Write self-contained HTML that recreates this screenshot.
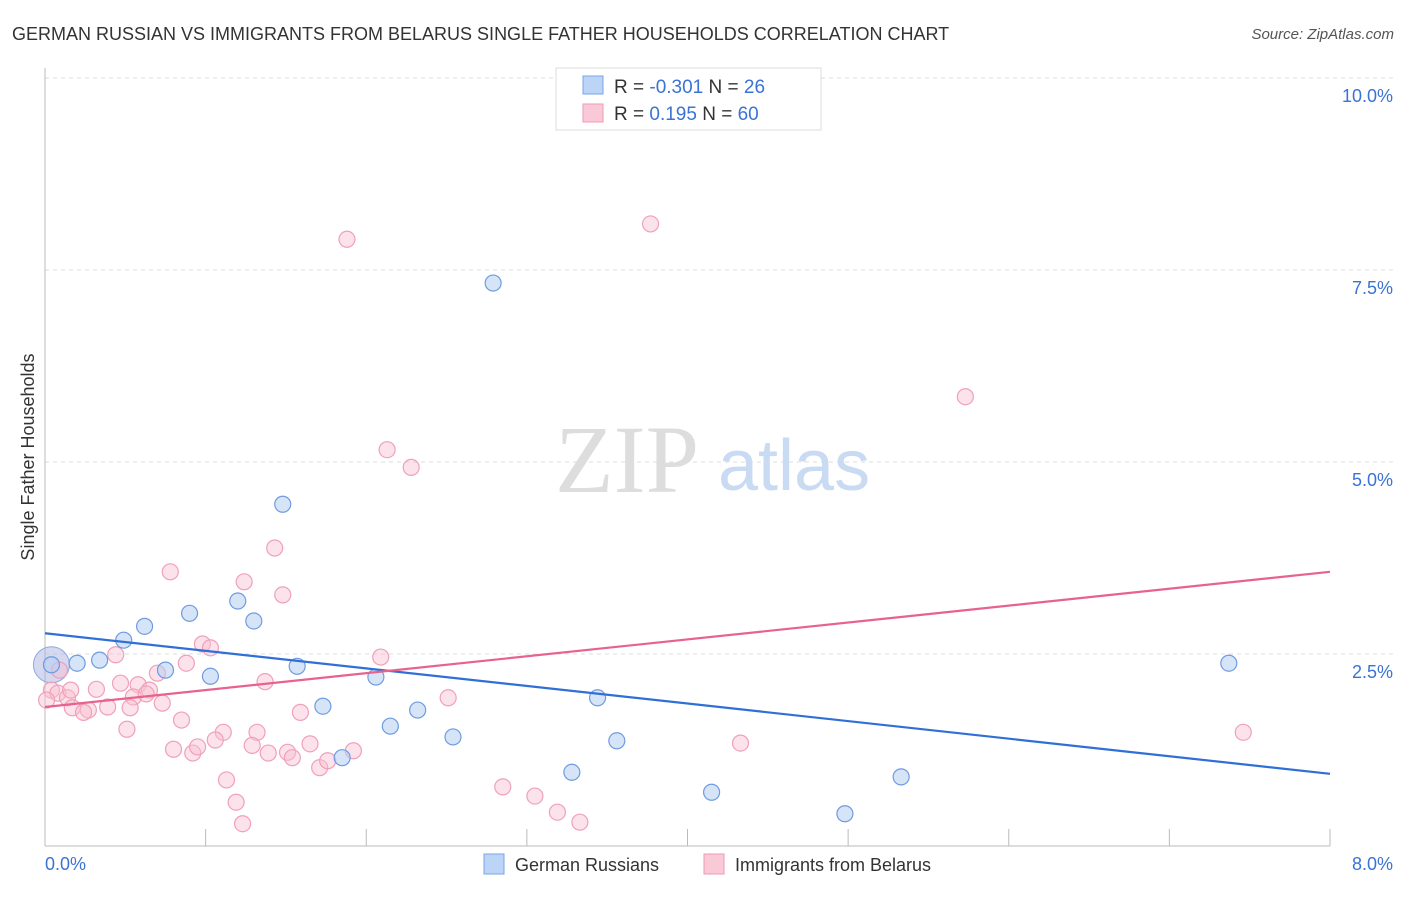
<!DOCTYPE html>
<html><head><meta charset="utf-8"><style>
body{margin:0;background:#fff;font-family:"Liberation Sans",sans-serif}
</style></head><body>
<svg width="1406" height="892" viewBox="0 0 1406 892" xmlns="http://www.w3.org/2000/svg" font-family="Liberation Sans, sans-serif">
<text x="12" y="40" font-size="18" fill="#333">GERMAN RUSSIAN VS IMMIGRANTS FROM BELARUS SINGLE FATHER HOUSEHOLDS CORRELATION CHART</text>
<text x="1394" y="39" font-size="15" fill="#555" text-anchor="end" font-style="italic">Source: ZipAtlas.com</text>
<g id="grid"></g>
<text x="555" y="492" font-size="96" fill="#ddd" font-family="Liberation Serif, serif">ZIP</text>
<text x="718" y="490" font-size="72" fill="#c9daf3">atlas</text>
<line x1="45" y1="68" x2="45" y2="846" stroke="#bbb"/>
<line x1="45" y1="846" x2="1330" y2="846" stroke="#bbb"/>
<g id="xt"></g>
<g id="pts"></g>
<g id="trend"></g>
<text transform="translate(34,457) rotate(-90)" font-size="18" fill="#333" text-anchor="middle">Single Father Households</text>
<text x="45" y="870" font-size="18" fill="#3b73d4">0.0%</text>
<text x="1393" y="870" font-size="18" fill="#3b73d4" text-anchor="end">8.0%</text>
<g>
<rect x="556" y="68" width="265" height="62" fill="#fff" stroke="#ddd"/>
<rect x="583" y="76" width="20" height="18" fill="#bcd4f5" stroke="#7aa5e6"/>
<rect x="583" y="104" width="20" height="18" fill="#f9c9d7" stroke="#ef9ab5"/>
<text x="614" y="93" font-size="19" fill="#333">R = <tspan fill="#3b73d4">-0.301</tspan>   N = <tspan fill="#3b73d4">26</tspan></text>
<text x="614" y="120" font-size="19" fill="#333">R =   <tspan fill="#3b73d4">0.195</tspan>   N = <tspan fill="#3b73d4">60</tspan></text>
</g>
<g>
<rect x="484" y="854" width="20" height="20" fill="#bcd4f5" stroke="#7aa5e6"/>
<text x="515" y="871" font-size="18" fill="#333">German Russians</text>
<rect x="704" y="854" width="20" height="20" fill="#f9c9d7" stroke="#ef9ab5"/>
<text x="735" y="871" font-size="18" fill="#333">Immigrants from Belarus</text>
</g>
</svg>
<script>
const yTicks=[10,7.5,5,2.5];
const yTickLabels=["10.0%","7.5%","5.0%","2.5%"];
const xTicks=[0,1,2,3,4,5,6,7,8];
const blueX=[0.04,0.20,0.34,0.49,0.62,0.75,0.90,1.03,1.20,1.30,1.48,1.57,1.73,1.85,2.06,2.15,2.32,2.54,2.79,3.28,3.44,3.56,4.15,4.98,5.33,7.37];
const blueY=[2.36,2.38,2.42,2.68,2.86,2.29,3.03,2.21,3.19,2.93,4.45,2.34,1.82,1.15,2.20,1.56,1.77,1.42,7.33,0.96,1.93,1.37,0.70,0.42,0.90,2.38];
const pinkX=[1.88,3.77,5.73,2.13,2.28,1.43,0.78,1.24,1.48,0.98,1.03,0.44,0.88,2.09,0.70,0.47,0.58,0.65,0.32,1.37,0.04,0.08,0.14,0.55,0.63,0.73,2.51,0.17,0.27,0.39,0.24,0.53,1.59,0.85,0.51,1.11,1.32,0.80,0.92,0.95,1.06,1.29,1.39,1.51,1.54,1.65,1.71,1.76,1.92,4.33,7.46,1.13,1.19,1.23,2.85,3.05,3.19,3.33,0.09,0.01,0.16];
const pinkY=[7.90,8.10,5.85,5.16,4.93,3.88,3.57,3.44,3.27,2.63,2.58,2.49,2.38,2.46,2.25,2.12,2.10,2.03,2.04,2.14,2.03,1.99,1.93,1.94,1.98,1.86,1.93,1.80,1.77,1.81,1.74,1.80,1.74,1.64,1.52,1.48,1.48,1.26,1.21,1.29,1.38,1.31,1.21,1.22,1.15,1.33,1.02,1.11,1.24,1.34,1.48,0.86,0.57,0.29,0.77,0.65,0.44,0.31,2.29,1.90,2.03];
const blueTrend=[2.77,0.94];
const pinkTrend=[1.81,3.57];
const xs=v=>45+v/8*1285, ys=v=>846-v/2.5*192;
const NS="http://www.w3.org/2000/svg";
function mk(t,a,p){const e=document.createElementNS(NS,t);for(const k in a)e.setAttribute(k,a[k]);p.appendChild(e);return e;}
const grid=document.getElementById('grid');
yTicks.forEach((v,i)=>{
 const l=mk('line',{x1:45,x2:1394,y1:ys(v),y2:ys(v),stroke:'#ddd','stroke-dasharray':'4,4'},grid);
 
 
 const t=mk('text',{x:1393,y:ys(v)+24,'font-size':18,fill:'#3b73d4','text-anchor':'end'},grid);
 t.textContent=yTickLabels[i];
 
 
});
const xt=document.getElementById('xt');
xTicks.forEach(v=>{
 const l=mk('line',{x1:xs(v),x2:xs(v),y1:829,y2:846,stroke:'#bbb'},xt);
 
 
});
const pts=document.getElementById('pts');
const big1=mk('circle',{cx:xs(blueX[0]),cy:ys(blueY[0]),r:18,fill:'rgba(170,180,225,0.5)',stroke:'#8fa9e0'},pts);


pinkX.forEach((x,i)=>{
 const c=mk('circle',{cx:xs(x),cy:ys(pinkY[i]),r:8,fill:'rgba(248,190,208,0.45)',stroke:'#f0a0ba','stroke-width':1.2},pts);
 
 
});
blueX.forEach((x,i)=>{
 const c=mk('circle',{cx:xs(x),cy:ys(blueY[i]),r:8,fill:'rgba(180,205,242,0.55)',stroke:'#6f9be0','stroke-width':1.2},pts);
 
 
});
const tr=document.getElementById('trend');
const b=mk('line',{x1:xs(0),y1:ys(blueTrend[0]),x2:xs(8),y2:ys(blueTrend[1]),stroke:'#2f6fd6','stroke-width':2.2},tr);


const p=mk('line',{x1:xs(0),y1:ys(pinkTrend[0]),x2:xs(8),y2:ys(pinkTrend[1]),stroke:'#e8628e','stroke-width':2.2},tr);


</script>
</body></html>
